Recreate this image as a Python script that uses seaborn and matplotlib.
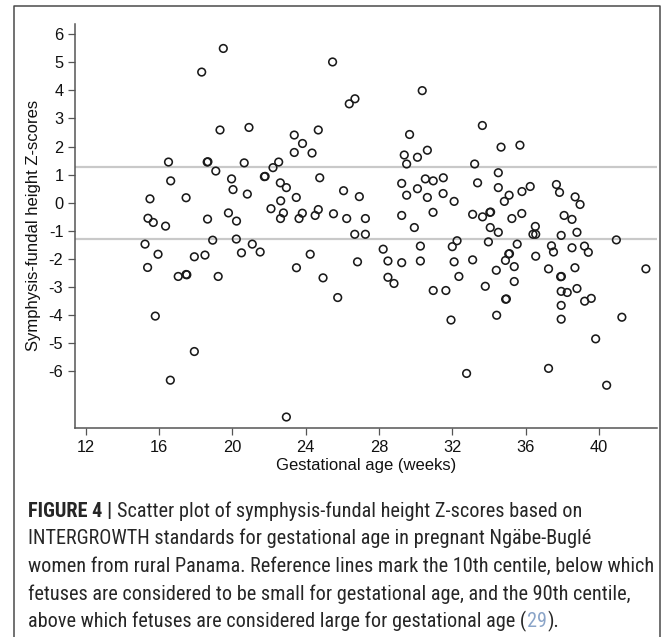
import matplotlib
matplotlib.use("Agg")
import matplotlib.pyplot as plt
import seaborn as sns
import pandas as pd
from matplotlib.lines import Line2D
from matplotlib import font_manager

# ---------------- data ----------------
gest_age = [
    15.24, 15.38, 15.40, 15.51, 15.69, 15.80, 15.95, 16.36, 16.52, 16.62,
    16.64, 17.05, 17.48, 17.48, 17.52, 17.93, 17.93, 18.33, 18.51, 18.63,
    18.67, 18.65, 18.93, 19.10, 19.23, 19.33, 19.51, 19.79, 19.96, 20.04,
    20.22, 20.23, 20.50, 20.65, 20.82, 20.91, 21.09, 21.52, 21.75, 21.79,
    22.11, 22.22, 22.53, 22.62, 22.64, 22.63, 22.79, 22.95, 22.95, 23.38,
    23.38, 23.49, 23.50, 23.64, 23.83, 23.82, 24.25, 24.35, 24.52, 24.69,
    24.69, 24.77, 24.95, 25.47, 25.52, 25.75, 26.07, 26.24, 26.38, 26.69,
    26.68, 26.83, 26.93, 27.26, 27.26, 28.23, 28.49, 28.49, 28.82, 29.24,
    29.24, 29.24, 29.38, 29.51, 29.51, 29.67, 29.93, 30.10, 30.10, 30.26,
    30.26, 30.36, 30.53, 30.64, 30.64, 30.96, 30.95, 30.96, 31.51, 31.50,
    31.65, 31.93, 32.00, 32.10, 32.10, 32.26, 32.36, 32.78, 33.11, 33.11,
    33.22, 33.38, 33.64, 33.65, 33.80, 33.97, 34.05, 34.09, 34.07, 34.40,
    34.42, 34.51, 34.51, 34.51, 34.66, 34.84, 34.90, 34.91, 34.95, 35.10,
    35.08, 35.12, 35.25, 35.38, 35.38, 35.54, 35.69, 35.80, 35.79, 36.25,
    36.40, 36.55, 36.53, 36.55, 37.25, 37.25, 37.41, 37.52, 37.68, 37.85,
    37.94, 37.91, 37.95, 37.94, 37.94, 37.94, 38.10, 38.27, 38.53, 38.53,
    38.69, 38.70, 38.80, 38.80, 38.97, 39.21, 39.22, 39.42, 39.58, 39.82,
    40.42, 40.95, 41.25, 42.56,
]
z_scores = [
    -1.47, -2.30, -0.55, 0.14, -0.70, -4.03, -1.83, -0.83, 1.45, -6.31,
    0.78, -2.62, 0.18, -2.55, -2.56, -1.92, -5.29, 4.65, -1.86, 1.45,
    1.46, -0.58, -1.33, 1.13, -2.62, 2.59, 5.49, -0.36, 0.85, 0.47,
    -1.29, -0.65, -1.78, 1.42, 0.31, 2.68, -1.47, -1.75, 0.93, 0.94,
    -0.21, 1.25, 1.45, 0.71, 0.07, -0.56, -0.36, 0.54, -7.62, 2.41,
    1.79, 0.19, -2.31, -0.56, 2.11, -0.37, -1.83, 1.77, -0.45, 2.59,
    -0.24, 0.89, -2.67, 5.01, -0.39, -3.37, 0.43, -0.56, 3.52, 3.70,
    -1.12, -2.10, 0.22, -0.56, -1.12, -1.65, -2.07, -2.65, -2.87, 0.69,
    -0.45, -2.13, 1.70, 1.38, 0.27, 2.43, -0.88, 1.62, 0.50, -1.54,
    -2.07, 3.99, 0.85, 1.87, 0.19, 0.78, -0.34, -3.12, 0.89, 0.33,
    -3.12, -4.17, -1.56, 0.05, -2.10, -1.35, -2.62, -6.07, -0.41, -2.03,
    1.38, 0.71, 2.75, -0.50, -2.97, -1.39, -0.34, -0.33, -0.88, -2.40,
    -4.00, 1.07, 0.54, -1.05, 1.98, 0.05, -2.05, -3.43, -3.42, 0.27,
    -1.82, -1.81, -0.56, -2.27, -2.80, -1.47, 2.05, 0.40, -0.38, 0.58,
    -1.12, -1.12, -0.84, -1.90, -2.35, -5.89, -1.53, -1.75, 0.65, 0.37,
    -1.16, -2.63, -2.62, -3.15, -3.65, -4.14, -0.45, -3.19, -0.59, -1.60,
    -2.31, 0.21, -1.05, -3.05, -0.06, -1.54, -3.50, -1.76, -3.40, -4.84,
    -6.49, -1.32, -4.07, -2.35,
]
centile_lines = [-1.2816, 1.2816]
x_ticks = [12, 16, 20, 24, 28, 32, 36, 40]
y_ticks = [-6, -5, -4, -3, -2, -1, 0, 1, 2, 3, 4, 5, 6]

x_label = "Gestational age (weeks)"
y_label = "Symphysis-fundal height Z-scores"
caption_bold = "FIGURE 4 |"
caption_lines = [
    "Scatter plot of symphysis-fundal height Z-scores based on",
    "INTERGROWTH standards for gestational age in pregnant Ngäbe-Buglé",
    "women from rural Panama. Reference lines mark the 10th centile, below which",
    "fetuses are considered to be small for gestational age, and the 90th centile,",
    "above which fetuses are considered large for gestational age (",
]
caption_ref = "29"
caption_end = ")."

# ---------------- style ----------------
W, H, DPI = 672, 637, 100
sns.set_style("ticks")
plt.rcParams["font.family"] = ["Liberation Sans", "DejaVu Sans"]
plt.rcParams["axes.unicode_minus"] = False

installed = {f.name for f in font_manager.fontManager.ttflist}
cap_family = "Liberation Sans"
for cand in ["Liberation Sans Narrow", "Roboto Condensed", "Roboto"]:
    if cand in installed:
        cap_family = cand
        break

df = pd.DataFrame({"ga": gest_age, "z": z_scores})

fig = plt.figure(figsize=(W / DPI, H / DPI), dpi=DPI)
fig.patch.set_facecolor("white")

ax_l, ax_r, ax_t, ax_b = 75, 656.7, 24, 427.7
ax = fig.add_axes([ax_l / W, 1 - ax_b / H, (ax_r - ax_l) / W, (ax_b - ax_t) / H])
ax.set_facecolor("white")

for v in centile_lines:
    ax.axhline(v, color="#c9c9c9", lw=1.6, zorder=1)

sns.scatterplot(data=df, x="ga", y="z", ax=ax, marker="o", s=30,
                facecolor="none", edgecolor="#1a1a1a", linewidth=1.15, zorder=3)

ax.set_xlim(11.42, 43.15)
ax.set_ylim(-8.0, 6.36)
ax.set_xticks(x_ticks)
ax.set_xticklabels([str(v) for v in x_ticks])
ax.set_yticks(y_ticks)
ax.set_yticklabels([str(v) for v in y_ticks])

sns.despine(ax=ax)
for sp in ["left", "bottom"]:
    ax.spines[sp].set_color("#555555")
    ax.spines[sp].set_linewidth(1.1)

ax.tick_params(axis="both", length=4.8, width=0.9, color="#555555",
               labelsize=11.8, labelcolor="#111111")
ax.tick_params(axis="x", pad=4.4)
ax.tick_params(axis="y", pad=3.6)

ax.set_xlabel(x_label, fontsize=12, color="#111111")
ax.set_ylabel(y_label, fontsize=12, color="#111111")
ax.xaxis.set_label_coords(0.5, -0.074)
ax.yaxis.set_label_coords(-0.0585, 0.5)

# ---------------- frame ----------------
fx0, fx1, fy0 = 14, 660, 6
fig.add_artist(Line2D([fx0 / W, fx0 / W, fx1 / W, fx1 / W],
                      [0, 1 - fy0 / H, 1 - fy0 / H, 0],
                      transform=fig.transFigure, color="#4a4a4a", lw=1.1))

# ---------------- caption ----------------
fig.canvas.draw()
renderer = fig.canvas.get_renderer()

cap_x0 = 28.0
target_w = 652 - cap_x0
probe = fig.text(0, 0, caption_lines[2], fontsize=12, family=cap_family)
pw = probe.get_window_extent(renderer=renderer).width
probe.remove()
cfs = 12 * target_w / pw
cap_color = "#262626"

sp_probe_a = fig.text(0, 0, "a a", fontsize=cfs, family=cap_family)
sp_probe_b = fig.text(0, 0, "aa", fontsize=cfs, family=cap_family)
space_px = (sp_probe_a.get_window_extent(renderer=renderer).width
            - sp_probe_b.get_window_extent(renderer=renderer).width)
sp_probe_a.remove()
sp_probe_b.remove()

baselines = [517, 544.5, 572, 599.5, 627]


def put(xpx, ypx, s, **kw):
    t = fig.text(xpx / W, 1 - ypx / H, s, ha="left", va="baseline",
                 fontsize=cfs, family=cap_family,
                 color=kw.pop("color", cap_color), **kw)
    return t.get_window_extent(renderer=renderer).x1


x1 = put(cap_x0, baselines[0], caption_bold, fontweight="bold")
put(x1 + space_px, baselines[0], caption_lines[0])
for i in range(1, 4):
    put(cap_x0, baselines[i], caption_lines[i])
x1 = put(cap_x0, baselines[4], caption_lines[4])
x1 = put(x1 + 0.8, baselines[4], caption_ref, color="#8aa4c8")
put(x1 + 0.8, baselines[4], caption_end)

fig.savefig("out.png", dpi=DPI, facecolor="white")
